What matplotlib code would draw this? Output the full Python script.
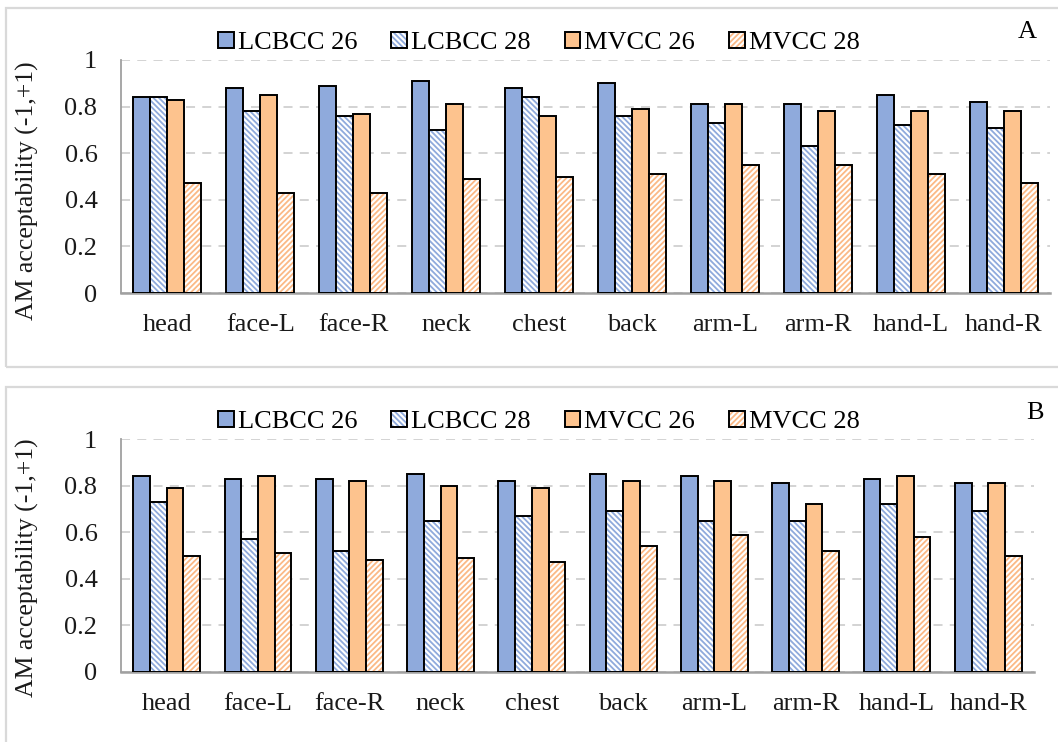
import matplotlib
matplotlib.use("Agg")
import matplotlib.pyplot as plt
from matplotlib.patches import Patch, Rectangle
from matplotlib.legend_handler import HandlerTuple
import numpy as np

# Body parts and series
parts = ["head", "face-L", "face-R", "neck", "chest",
         "back", "arm-L", "arm-R", "hand-L", "hand-R"]
series = ["LCBCC 26", "LCBCC 28", "MVCC 26", "MVCC 28"]
yticks = [0, 0.2, 0.4, 0.6, 0.8, 1]
ytick_labels = ["0", "0.2", "0.4", "0.6", "0.8", "1"]

# Panel A
a_lcbcc26 = [0.84, 0.88, 0.89, 0.91, 0.88, 0.90, 0.81, 0.81, 0.85, 0.82]
a_lcbcc28 = [0.84, 0.78, 0.76, 0.70, 0.84, 0.76, 0.73, 0.63, 0.72, 0.71]
a_mvcc26 = [0.83, 0.85, 0.77, 0.81, 0.76, 0.79, 0.81, 0.78, 0.78, 0.78]
a_mvcc28 = [0.47, 0.43, 0.43, 0.49, 0.50, 0.51, 0.55, 0.55, 0.51, 0.47]

# Panel B
b_lcbcc26 = [0.84, 0.83, 0.83, 0.85, 0.82, 0.85, 0.84, 0.81, 0.83, 0.81]
b_lcbcc28 = [0.73, 0.57, 0.52, 0.65, 0.67, 0.69, 0.65, 0.65, 0.72, 0.69]
b_mvcc26 = [0.79, 0.84, 0.82, 0.80, 0.79, 0.82, 0.82, 0.72, 0.84, 0.81]
b_mvcc28 = [0.50, 0.51, 0.48, 0.49, 0.47, 0.54, 0.59, 0.52, 0.58, 0.50]

BLUE = "#8FAADC"
ORANGE = "#FDC38E"
HATCH_BLUE = "#8FAADC"
HATCH_ORANGE = "#FBB986"
GRID = "#D0D0D0"
SPINE = "#A0A0A0"
FONT = "Liberation Serif"
FS = 19

plt.rcParams["font.family"] = FONT
plt.rcParams["hatch.linewidth"] = 1.3

W, H = 1058, 742
fig = plt.figure(figsize=(W / 100, H / 100), dpi=100)


def fx(px):
    return px / W


def fy(py):
    return 1 - py / H


# Panel frames
for top, bottom in [(8, 367), (387, 760)]:
    fig.patches.append(Rectangle((fx(6), fy(bottom)), fx(1070) - fx(6),
                                 fy(top) - fy(bottom), transform=fig.transFigure,
                                 fill=False, edgecolor="#D9D9D9", linewidth=1.6))

styles = [
    dict(solid=True, color=BLUE),
    dict(solid=False, color=HATCH_BLUE, hatch="\\" * 6),
    dict(solid=True, color=ORANGE),
    dict(solid=False, color=HATCH_ORANGE, hatch="/" * 6),
]


def draw_panel(rect_px, data, letter, letter_xy, legend_y, ylabel_y):
    left, top, right, bottom = rect_px
    ax = fig.add_axes([fx(left), fy(bottom), fx(right) - fx(left), fy(top) - fy(bottom)])
    x = np.arange(len(parts))
    w = 0.183
    offsets = (np.arange(4) - 1.5) * w
    for vals, off, st in zip(data, offsets, styles):
        if st["solid"]:
            ax.bar(x + off, vals, w, color=st["color"], edgecolor="black",
                   linewidth=1.4, zorder=3)
        else:
            ax.bar(x + off, vals, w, color="white", edgecolor=st["color"],
                   hatch=st["hatch"], linewidth=0, zorder=3)
            ax.bar(x + off, vals, w, fill=False, edgecolor="black",
                   linewidth=1.4, zorder=4)
    ax.set_xlim(-0.5, len(parts) - 0.5)
    ax.set_ylim(0, 1)
    ax.set_yticks(yticks)
    ax.set_yticklabels(ytick_labels)
    ax.set_xticks(x)
    ax.set_xticklabels(parts)
    ax.tick_params(axis="both", length=0, labelsize=FS, colors="#1a1a1a")
    ax.tick_params(axis="y", pad=17)
    ax.tick_params(axis="x", pad=15)
    ax.yaxis.grid(True, linestyle=(0, (5, 4)), color=GRID, linewidth=1.3, zorder=0)
    for s in ("top", "right"):
        ax.spines[s].set_visible(False)
    for s in ("left", "bottom"):
        ax.spines[s].set_color(SPINE)
        ax.spines[s].set_linewidth(1.3)
    ax.spines["bottom"].set_linewidth(1.8)

    handles = []
    for st in styles:
        if st["solid"]:
            handles.append(Patch(facecolor=st["color"], edgecolor="black", linewidth=1.4))
        else:
            handles.append((Patch(facecolor="white", edgecolor=st["color"],
                                  hatch=st["hatch"], linewidth=0),
                            Patch(fill=False, edgecolor="black", linewidth=1.4)))
    fig.legend(handles, series, loc="center", ncol=4, frameon=False,
               bbox_to_anchor=(fx(539), fy(legend_y)), fontsize=FS,
               handlelength=0.6, handleheight=0.6, handletextpad=0.15,
               columnspacing=1.28, borderpad=0,
               handler_map={tuple: HandlerTuple(ndivide=1)})
    fig.text(fx(letter_xy[0]), fy(letter_xy[1]), letter, ha="center", va="center",
             fontsize=FS, color="black")
    fig.text(fx(27), fy(ylabel_y), "AM acceptability (-1,+1)", rotation=90,
             ha="center", va="center", fontsize=18.5, color="#1a1a1a")
    return ax


draw_panel((121, 60, 1050, 293), [a_lcbcc26, a_lcbcc28, a_mvcc26, a_mvcc28],
           "A", (1027, 32), 43, 191)
draw_panel((121, 439, 1034, 672), [b_lcbcc26, b_lcbcc28, b_mvcc26, b_mvcc28],
           "B", (1035, 413), 422, 568)

fig.savefig("out.png", dpi=100)
